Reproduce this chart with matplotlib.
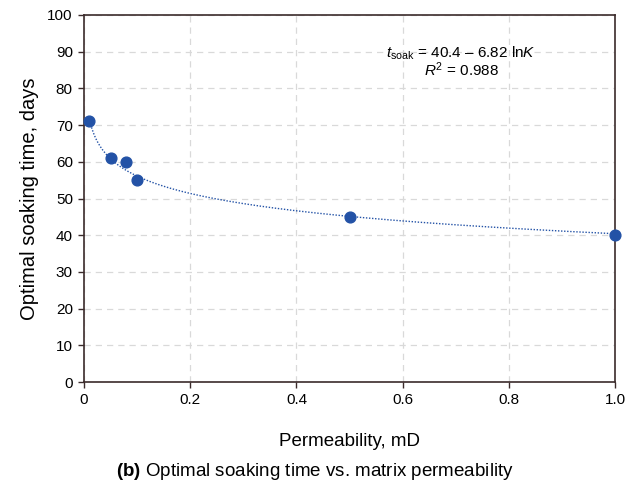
import numpy as np
from matplotlib import pyplot as plt

plt.rcParams["font.family"] = ["Liberation Sans", "DejaVu Sans"]
plt.rcParams["mathtext.fontset"] = "custom"
plt.rcParams["mathtext.rm"] = "Liberation Sans"
plt.rcParams["mathtext.it"] = "Liberation Sans:italic"
plt.rcParams["mathtext.bf"] = "Liberation Sans:bold"

# Measured optimal soaking time for each matrix permeability.
permeability = [0.01, 0.05, 0.08, 0.1, 0.5, 1.0]
soak_days = [71, 61, 60, 55, 45, 40]

# Logarithmic trend line coefficients: t = a - b ln K.
fit_a = 40.4
fit_b = 6.82
fit_r2 = 0.988

blue = "#2352a6"
spine = "#3b2b2b"

fig = plt.figure(figsize=(6.29, 5.0), dpi=100)
ax = fig.add_axes([0.1335, 0.236, 0.8445, 0.734])

k = np.linspace(0.01, 1.0, 400)
ax.plot(k, fit_a - fit_b * np.log(k), color=blue, lw=1.0, ls=(0, (1, 1.2)))
ax.scatter(permeability, soak_days, s=60, color=blue, zorder=3, clip_on=False)

ax.set_xlim(0, 1.0)
ax.set_ylim(0, 100)
ax.set_xticks([0, 0.2, 0.4, 0.6, 0.8, 1.0])
ax.set_xticklabels(["0", "0.2", "0.4", "0.6", "0.8", "1.0"])
ax.set_yticks(range(0, 101, 10))
ax.grid(True, color="#d9d9d9", ls=(0, (5, 4)), lw=0.9)
ax.set_axisbelow(True)
for s in ax.spines.values():
    s.set_color(spine)
    s.set_linewidth(1.2)
ax.tick_params(direction="out", length=4, width=1.0, color=spine,
               labelsize=11, pad=4)

ax.set_ylabel("Optimal soaking time, days", fontsize=14.5, labelpad=6)
ax.set_xlabel("Permeability, mD", fontsize=13.5, labelpad=19)

ax.text(0.71, 89.5, r"$t_{\mathrm{soak}}$" + f" = {fit_a} \u2013 {fit_b} ln" + r"$K$",
        ha="center", va="center", fontsize=11)
ax.text(0.71, 85, r"$R^{2}$" + f" = {fit_r2}", ha="center", va="center", fontsize=11)

fig.text(0.5, 0.058, r"$\mathbf{(b)}$ Optimal soaking time vs. matrix permeability",
         ha="center", va="center", fontsize=13.5)

fig.savefig("out.png", dpi=100)
